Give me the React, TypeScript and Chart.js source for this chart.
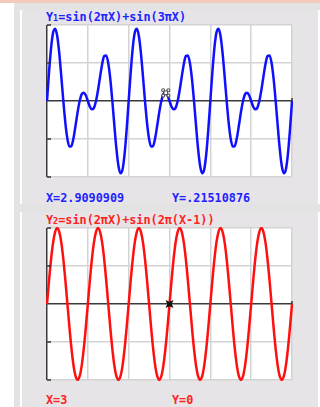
import React, { useEffect, useRef } from 'react';
import { Chart, registerables } from 'chart.js';

Chart.register(...registerables);

// x sample positions (Xmin=0, Xmax=6)
const xValues = [
  0, 0.05, 0.1, 0.15, 0.2, 0.25, 0.3, 0.35, 0.4, 0.45, 0.5, 0.55, 0.6, 0.65, 0.7, 0.75, 0.8, 0.85, 0.9, 0.95,
  1, 1.05, 1.1, 1.15, 1.2, 1.25, 1.3, 1.35, 1.4, 1.45, 1.5, 1.55, 1.6, 1.65, 1.7, 1.75, 1.8, 1.85, 1.9, 1.95,
  2, 2.05, 2.1, 2.15, 2.2, 2.25, 2.3, 2.35, 2.4, 2.45, 2.5, 2.55, 2.6, 2.65, 2.7, 2.75, 2.8, 2.85, 2.9, 2.95,
  3, 3.05, 3.1, 3.15, 3.2, 3.25, 3.3, 3.35, 3.4, 3.45, 3.5, 3.55, 3.6, 3.65, 3.7, 3.75, 3.8, 3.85, 3.9, 3.95,
  4, 4.05, 4.1, 4.15, 4.2, 4.25, 4.3, 4.35, 4.4, 4.45, 4.5, 4.55, 4.6, 4.65, 4.7, 4.75, 4.8, 4.85, 4.9, 4.95,
  5, 5.05, 5.1, 5.15, 5.2, 5.25, 5.3, 5.35, 5.4, 5.45, 5.5, 5.55, 5.6, 5.65, 5.7, 5.75, 5.8, 5.85, 5.9, 5.95,
  6,
];

// Y1 values
const y1Values = [
  0, 0.76, 1.4, 1.8, 1.9, 1.71, 1.26, 0.65, 0, -0.58, -1, -1.2, -1.18, -0.97, -0.64, -0.29, 0, 0.18, 0.22, 0.15,
  0, -0.15, -0.22, -0.18, 0, 0.29, 0.64, 0.97, 1.18, 1.2, 1, 0.58, 0, -0.65, -1.26, -1.71, -1.9, -1.8, -1.4, -0.76,
  0, 0.76, 1.4, 1.8, 1.9, 1.71, 1.26, 0.65, 0, -0.58, -1, -1.2, -1.18, -0.97, -0.64, -0.29, 0, 0.18, 0.22, 0.15,
  0, -0.15, -0.22, -0.18, 0, 0.29, 0.64, 0.97, 1.18, 1.2, 1, 0.58, 0, -0.65, -1.26, -1.71, -1.9, -1.8, -1.4, -0.76,
  0, 0.76, 1.4, 1.8, 1.9, 1.71, 1.26, 0.65, 0, -0.58, -1, -1.2, -1.18, -0.97, -0.64, -0.29, 0, 0.18, 0.22, 0.15,
  0, -0.15, -0.22, -0.18, 0, 0.29, 0.64, 0.97, 1.18, 1.2, 1, 0.58, 0, -0.65, -1.26, -1.71, -1.9, -1.8, -1.4, -0.76,
  0,
];

// Y2 values
const y2Values = [
  0, 0.62, 1.18, 1.62, 1.9, 2, 1.9, 1.62, 1.18, 0.62, 0, -0.62, -1.18, -1.62, -1.9, -2, -1.9, -1.62, -1.18, -0.62,
  0, 0.62, 1.18, 1.62, 1.9, 2, 1.9, 1.62, 1.18, 0.62, 0, -0.62, -1.18, -1.62, -1.9, -2, -1.9, -1.62, -1.18, -0.62,
  0, 0.62, 1.18, 1.62, 1.9, 2, 1.9, 1.62, 1.18, 0.62, 0, -0.62, -1.18, -1.62, -1.9, -2, -1.9, -1.62, -1.18, -0.62,
  0, 0.62, 1.18, 1.62, 1.9, 2, 1.9, 1.62, 1.18, 0.62, 0, -0.62, -1.18, -1.62, -1.9, -2, -1.9, -1.62, -1.18, -0.62,
  0, 0.62, 1.18, 1.62, 1.9, 2, 1.9, 1.62, 1.18, 0.62, 0, -0.62, -1.18, -1.62, -1.9, -2, -1.9, -1.62, -1.18, -0.62,
  0, 0.62, 1.18, 1.62, 1.9, 2, 1.9, 1.62, 1.18, 0.62, 0, -0.62, -1.18, -1.62, -1.9, -2, -1.9, -1.62, -1.18, -0.62,
  0,
];

const yTickMarks = [-2, -1, 1, 2];
const cursor1 = [2.9090909, 0.21510876];
const cursor2 = [3, 0];
const footer1 = ['X=2.9090909', 'Y=.21510876'];
const footer2 = ['X=3', 'Y=0'];

const tiPlugin = {
  id: 'tiDecor',
  beforeDraw(chart: any) {
    const { ctx, chartArea } = chart;
    ctx.save();
    ctx.fillStyle = '#ffffff';
    ctx.fillRect(chartArea.left, chartArea.top, chartArea.right - chartArea.left, chartArea.bottom - chartArea.top);
    ctx.restore();
  },
  afterDatasetsDraw(chart: any, _args: any, opts: any) {
    const { ctx, scales } = chart;
    const x = scales.x;
    const y = scales.y;
    ctx.save();
    ctx.strokeStyle = '#333';
    ctx.lineWidth = 1.5;
    const x0 = x.getPixelForValue(0);
    for (const v of yTickMarks) {
      const py = y.getPixelForValue(v);
      ctx.beginPath();
      ctx.moveTo(x0, py);
      ctx.lineTo(x0 + 4, py);
      ctx.stroke();
    }
    const xr = x.getPixelForValue(6);
    const y0 = y.getPixelForValue(0);
    ctx.beginPath();
    ctx.moveTo(xr, y0);
    ctx.lineTo(xr, y0 - 3);
    ctx.stroke();

    const cx = x.getPixelForValue(opts.cx);
    const cy = y.getPixelForValue(opts.cy);
    if (opts.filled) {
      ctx.fillStyle = '#111';
      ctx.beginPath();
      ctx.moveTo(cx - 4, cy - 4);
      ctx.lineTo(cx, cy - 2.2);
      ctx.lineTo(cx + 4, cy - 4);
      ctx.lineTo(cx + 2.2, cy);
      ctx.lineTo(cx + 4, cy + 4);
      ctx.lineTo(cx, cy + 2.2);
      ctx.lineTo(cx - 4, cy + 4);
      ctx.lineTo(cx - 2.2, cy);
      ctx.closePath();
      ctx.fill();
    } else {
      ctx.strokeStyle = '#555';
      ctx.lineWidth = 1.1;
      ctx.fillStyle = '#fff';
      const pts = [[-2.6, -2.6], [2.6, -2.6], [2.6, 2.6], [-2.6, 2.6]];
      for (const [dx, dy] of pts) {
        ctx.beginPath();
        ctx.arc(cx + dx, cy + dy, 1.5, 0, Math.PI * 2);
        ctx.fill();
        ctx.stroke();
      }
      ctx.beginPath();
      ctx.rect(cx - 1.8, cy - 1.8, 3.6, 3.6);
      ctx.fill();
      ctx.stroke();
    }
    ctx.restore();
  },
};

function Graph(props: { ys: number[]; color: string; cursor: number[]; filled: boolean; top: number }) {
  const ref = useRef<HTMLCanvasElement | null>(null);
  useEffect(() => {
    if (!ref.current) return;
    const gridColor = (c: any) => (c.tick && c.tick.value === 0 ? '#3a3a3a' : '#d3d3d3');
    const chart = new Chart(ref.current, {
      type: 'line',
      data: {
        datasets: [
          {
            data: xValues.map((xv, i) => ({ x: xv, y: props.ys[i] })),
            borderColor: props.color,
            borderWidth: 2.5,
            pointRadius: 0,
            fill: false,
            cubicInterpolationMode: 'monotone',
            clip: 1,
          } as any,
        ],
      },
      options: {
        animation: false,
        responsive: false,
        devicePixelRatio: 1,
        layout: { padding: { left: 3, right: 2, top: 3, bottom: 3 } },
        plugins: {
          legend: { display: false },
          tooltip: { enabled: false },
          title: { display: false },
          tiDecor: { cx: props.cursor[0], cy: props.cursor[1], filled: props.filled },
        } as any,
        scales: {
          x: {
            type: 'linear',
            min: 0,
            max: 6,
            ticks: { display: false, stepSize: 1 },
            grid: { color: gridColor, lineWidth: 1.5, drawTicks: false },
            border: { display: false },
          },
          y: {
            type: 'linear',
            min: -2,
            max: 2,
            ticks: { display: false, stepSize: 1 },
            grid: { color: gridColor, lineWidth: 1.5, drawTicks: false },
            border: { display: false },
          },
        },
      },
      plugins: [tiPlugin],
    });
    return () => chart.destroy();
  }, []);
  return (
    <canvas
      ref={ref}
      width={250}
      height={158}
      style={{ position: 'absolute', left: 44, top: props.top, width: 250, height: 158 }}
    />
  );
}

const textStyle = (color: string, top: number, left: number): React.CSSProperties => ({
  position: 'absolute',
  top,
  left,
  color,
  fontFamily: '"DejaVu Sans Mono", monospace',
  fontWeight: 'bold',
  fontSize: 11.8,
  lineHeight: '12px',
  whiteSpace: 'nowrap',
});

export default function App() {
  const blue = '#2222ff';
  const red = '#ff2222';
  return (
    <div style={{ position: 'fixed', left: 0, top: 0, width: 320, height: 407, background: '#ffffff', overflow: 'hidden' }}>
      <div style={{ position: 'absolute', left: 0, top: 0, width: 320, height: 3, background: '#f3cabe' }} />
      <div style={{ position: 'absolute', left: 14, top: 3, width: 306, height: 404, background: '#e3e3e3' }} />
      <div style={{ position: 'absolute', left: 20, top: 10, width: 300, height: 194, background: '#ffffff' }} />
      <div style={{ position: 'absolute', left: 22, top: 10, width: 296, height: 194, background: '#e7e4e7' }} />
      <div style={{ position: 'absolute', left: 20, top: 212, width: 300, height: 195, background: '#ffffff' }} />
      <div style={{ position: 'absolute', left: 22, top: 212, width: 296, height: 195, background: '#e7e4e7' }} />

      <div style={textStyle(blue, 11, 46)}>
        Y<span style={{ fontSize: 8.5 }}>1</span>=sin(2πX)+sin(3πX)
      </div>
      <Graph ys={y1Values} color="#1010ff" cursor={cursor1} filled={false} top={22} />
      <div style={textStyle(blue, 191.5, 46)}>{footer1[0]}</div>
      <div style={textStyle(blue, 191.5, 172)}>{footer1[1]}</div>

      <div style={textStyle(red, 213.5, 46)}>
        Y<span style={{ fontSize: 8.5 }}>2</span>=sin(2πX)+sin(2π(X-1))
      </div>
      <Graph ys={y2Values} color="#ff1010" cursor={cursor2} filled={true} top={225} />
      <div style={textStyle(red, 393.5, 46)}>{footer2[0]}</div>
      <div style={textStyle(red, 393.5, 172)}>{footer2[1]}</div>
    </div>
  );
}
